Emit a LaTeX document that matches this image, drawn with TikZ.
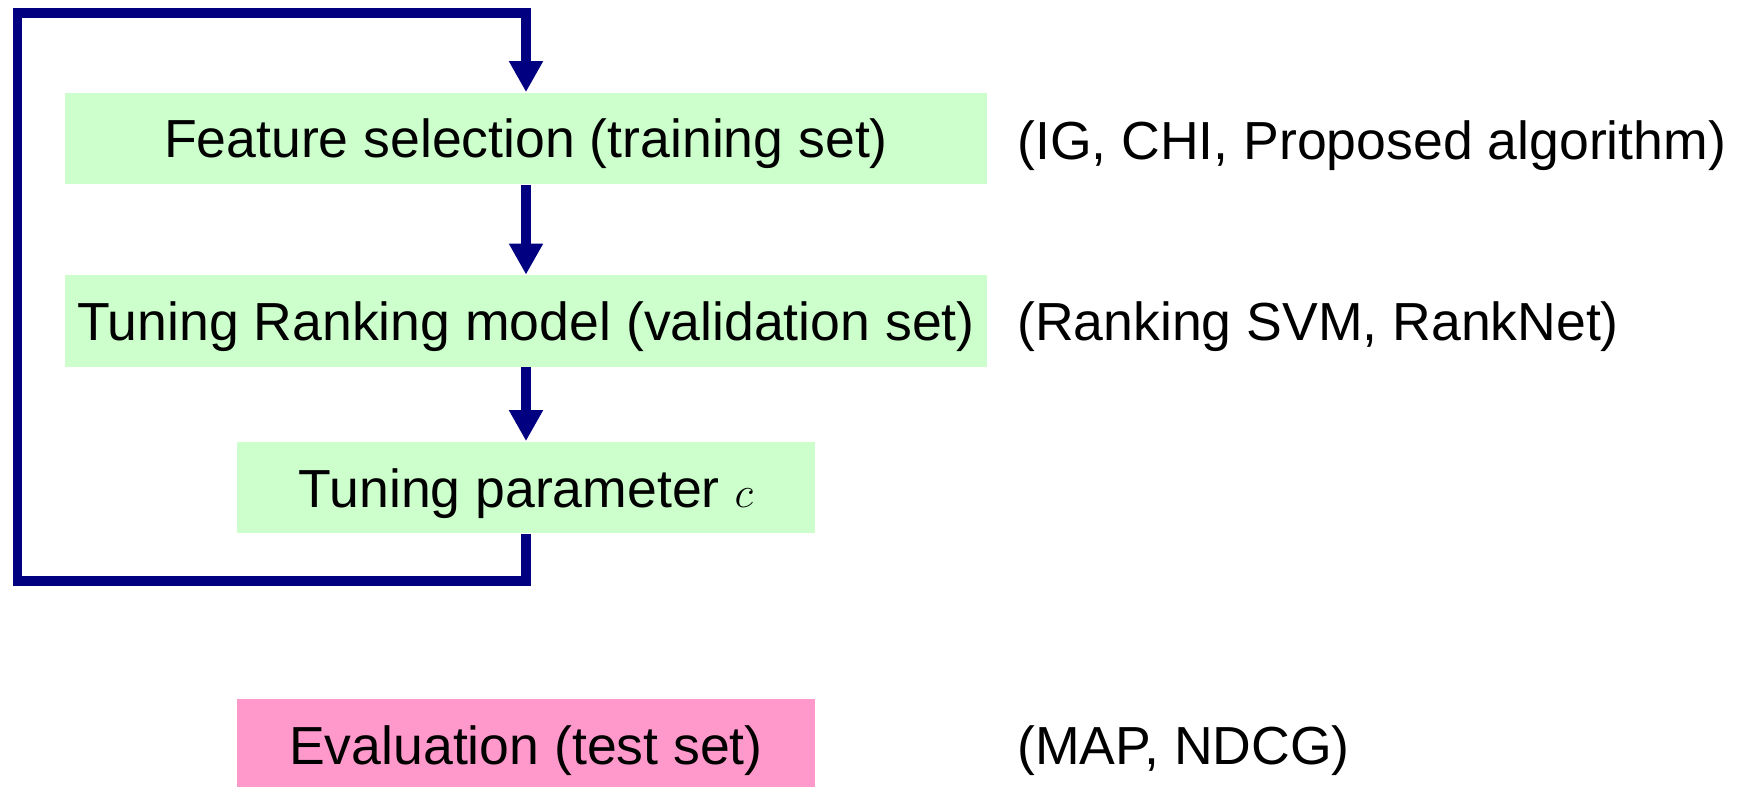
\documentclass[tikz,border=0pt]{standalone}
\usepackage{fontspec}
\setmainfont{Liberation Sans}
\usetikzlibrary{arrows.meta,positioning}
\definecolor{navy}{HTML}{000080}
\definecolor{boxgreen}{HTML}{CCFFCC}
\definecolor{boxpink}{HTML}{FF99CC}

\begin{document}
\begin{tikzpicture}[x=0.02cm,y=-0.02cm,
  stepbox/.style={fill=#1,inner sep=0pt,minimum height=1.84cm,text height=0.78cm,text depth=0pt,font=\fontsize{30.5}{36}\selectfont},
  note/.style={anchor=west,inner sep=0pt,text height=0.78cm,text depth=0pt,font=\fontsize{30.5}{36}\selectfont},
  flow/.style={draw=navy,line width=0.2cm,-{Triangle[width=0.64cm,length=0.62cm]}}]
\useasboundingbox (0,0) rectangle (1737,787);
% steps
\node[stepbox=boxgreen,minimum width=18.46cm] (feat) at (526,138.5) {Feature selection (training set)};
\node[stepbox=boxgreen,minimum width=18.46cm] (tune) at (526,321) {Tuning Ranking model (validation set)};
\node[stepbox=boxgreen,minimum width=11.58cm] (param) at (526,487.5) {Tuning parameter {\fontsize{36}{40}\selectfont$c$}};
\node[stepbox=boxpink,minimum width=11.58cm] (eval) at (526,745) {Evaluation (test set)};
% notes on the right
\node[note] (feattxt) at (1017,140) {(IG, CHI, Proposed algorithm)};
\node[note] (tunetxt) at (feattxt.west |- tune) {(Ranking SVM, RankNet)};
\node[note] (evaltxt) at (feattxt.west |- eval) {(MAP, NDCG)};
% arrows
\draw[flow] (feat) -- (tune);
\draw[flow] (tune) -- (param);
\coordinate (lowleft) at (17.5,581);
\coordinate (upleft) at (17.5,13);
\draw[flow] (param.south) |- (lowleft) -- (upleft) -| (feat.north);
\end{tikzpicture}
\end{document}
